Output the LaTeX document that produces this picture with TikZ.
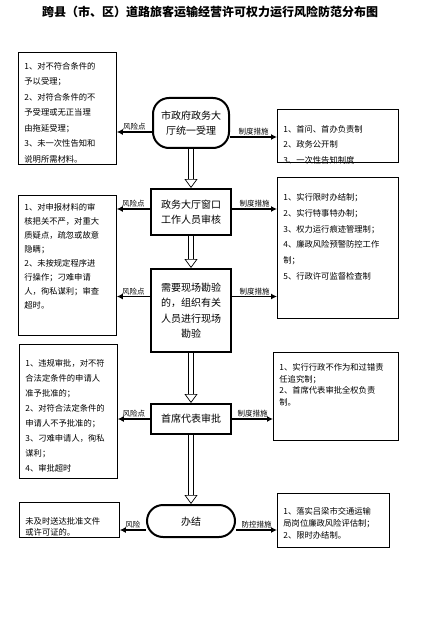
\documentclass[tikz,border=0pt]{standalone}
\usepackage{fontspec}
\setmainfont{Noto Sans CJK SC}
\usetikzlibrary{arrows.meta,positioning,calc}
\tikzset{
  % process step in the middle column: thick border
  procbox/.style={draw, rectangle, line width=2pt, align=center,
                  minimum width=80pt, inner sep=2pt, font=\fontsize{10}{15.5}\selectfont},
  procround/.style={procbox, rounded corners=16pt},
  % risk points / measures: thin box, text from the top
  notebox/.style={draw, rectangle, line width=0.8pt, align=left, anchor=north west,
                  inner xsep=6pt, inner ysep=0pt, font=\fontsize{8.3}{15.5}\selectfont},
  % arrows
  sidearr/.style={-{Latex[length=6pt,width=6pt]}, line width=1.6pt},
  armlabel/.style={font=\fontsize{7.5}{9}\selectfont, inner sep=1pt, above},
  flowdown/.style={double, double distance=4pt, line width=0.7pt,
                   -{Triangle[open,length=9pt,width=13pt,line width=0.7pt]}},
  figtitle/.style={font=\bfseries\fontsize{12}{14}\selectfont}
}
\begin{document}
\begin{tikzpicture}[x=1pt, y=1pt]
\useasboundingbox (0,0) rectangle (436,-631);

\node[figtitle] (title) at (210,-12) {跨县（市、区）道路旅客运输经营许可权力运行风险防范分布图};

% ============== middle column ==============
\node[procround, minimum width=76pt, minimum height=50pt] (n1) at (191,-123) {市政府政务大\\厅统一受理};
\node[procbox, below=39pt of n1, minimum height=46pt] (n2) {政务大厅窗口\\工作人员审核};
\node[procbox, below=32pt of n2, minimum height=83pt] (n3) {需要现场勘验\\的，组织有关\\人员进行现场\\勘验};
\node[procbox, below=50pt of n3, minimum height=30pt] (n4) {首席代表审批};
\node[procround, below=69pt of n4, minimum width=88pt, minimum height=32pt, text depth=-4pt] (n5) {办结};

\draw[flowdown] (n1) -- (n2);
\draw[flowdown] (n2) -- (n3);
\draw[flowdown] (n3) -- (n4);
\draw[flowdown] (n4) -- (n5);

% ============== left: risk points ==============
\node[notebox, text width=86pt, text height=17pt, text depth=95pt] (risk1) at (18,-52)
  {1、对不符合条件的\\予以受理；\\2、对符合条件的不\\予受理或无正当理\\由拖延受理；\\3、未一次性告知和\\说明所需材料。};
\node[notebox, text width=86pt, text height=15pt, text depth=125pt, font=\fontsize{8.3}{14}\selectfont] (risk2) at (18,-195)
  {1、对申报材料的审\\核把关不严，对重大\\质疑点，疏忽或故意\\隐瞒；\\2、未按规定程序进\\行操作；刁难申请\\人，徇私谋利；审查\\超时。};
\node[notebox, text width=86pt, text height=22pt, text depth=112pt, font=\fontsize{8.3}{15}\selectfont] (risk3) at (19,-344)
  {1、违规审批，对不符\\合法定条件的申请人\\准予批准的；\\2、对符合法定条件的\\申请人不予批准的；\\3、刁难申请人，徇私\\谋利；\\4、审批超时};
\node[notebox, text width=88pt, text height=22pt, text depth=13pt, font=\fontsize{8.3}{11}\selectfont] (risk4) at (19,-502)
  {未及时送达批准文件\\或许可证的。};

% ============== right: control measures ==============
\node[notebox, text width=109pt, text height=23pt, text depth=30pt] (meas1) at (277,-109)
  {1、首问、首办负责制\\2、政务公开制\\3、一次性告知制度};
\node[notebox, text width=109pt, text height=23pt, text depth=118pt, font=\fontsize{8.3}{15.8}\selectfont] (meas2) at (277,-177)
  {1、实行限时办结制；\\2、实行特事特办制；\\3、权力运行痕迹管理制；\\4、廉政风险预警防控工作\\制；\\5、行政许可监督检查制};
\node[notebox, text width=113pt, text height=18pt, text depth=70pt, font=\fontsize{8.3}{11.7}\selectfont] (meas3) at (273,-352)
  {1、实行行政不作为和过错责\\任追究制；\\2、首席代表审批全权负责\\制。};
\node[notebox, text width=100pt, text height=21pt, text depth=33pt, font=\fontsize{8.3}{12}\selectfont] (meas4) at (277,-493)
  {1、落实吕梁市交通运输\\局岗位廉政风险评估制；\\2、限时办结制。};

% ============== side arrows ==============
\draw[sidearr] ([yshift=-9pt]n1.west) -- node[armlabel] {风险点} ([yshift=-9pt]n1.west -| risk1.east);
\draw[sidearr] ([yshift=-14pt]n1.east) -- node[armlabel] {制度措施} ([yshift=-14pt]n1.east -| meas1.west);
\draw[sidearr] ([yshift=3pt]n2.west) -- node[armlabel] {风险点} ([yshift=3pt]n2.west -| risk2.east);
\draw[sidearr] ([yshift=3pt]n2.east) -- node[armlabel] {制度措施} ([yshift=3pt]n2.east -| meas2.west);
\draw[sidearr] ([yshift=14pt]n3.west) -- node[armlabel] {风险点} ([yshift=14pt]n3.west -| risk2.east);
\draw[sidearr] ([yshift=14pt]n3.east) -- node[armlabel] {制度措施} ([yshift=14pt]n3.east -| meas2.west);
\draw[sidearr] (n4.west) -- node[armlabel] {风险点} (n4.west -| risk3.east);
\draw[sidearr] (n4.east) -- node[armlabel] {制度措施} (n4.east -| meas3.west);
\draw[sidearr] ([yshift=-9pt]n5.west) -- node[armlabel] {风险} ([yshift=-9pt]n5.west -| risk4.east);
\draw[sidearr] ([yshift=-9pt]n5.east) -- node[armlabel] {防控措施} ([yshift=-9pt]n5.east -| meas4.west);

\end{tikzpicture}
\end{document}
